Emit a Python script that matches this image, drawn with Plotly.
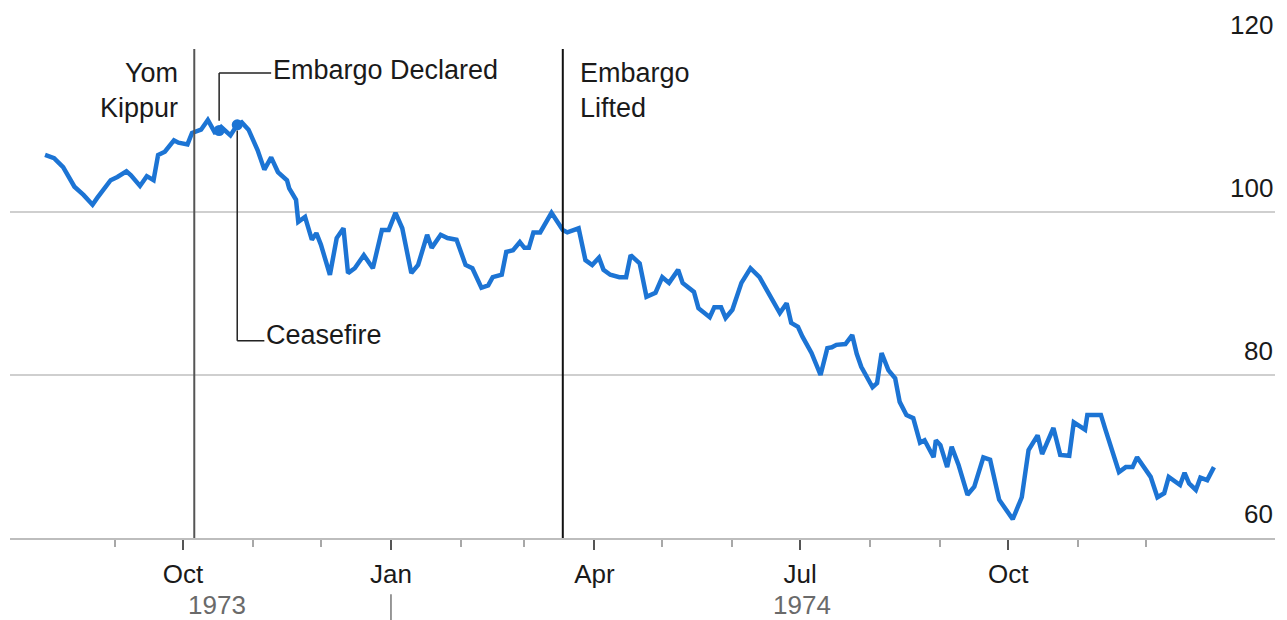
import plotly.graph_objects as go

# ---- data ----
dates = [
    "1973-08-01", "1973-08-05", "1973-08-09", "1973-08-14", "1973-08-18", "1973-08-22",
    "1973-08-24", "1973-08-30", "1973-09-02", "1973-09-06", "1973-09-08", "1973-09-12",
    "1973-09-15", "1973-09-18", "1973-09-20", "1973-09-23", "1973-09-27", "1973-09-29",
    "1973-10-03", "1973-10-05", "1973-10-09", "1973-10-12", "1973-10-15", "1973-10-17",
    "1973-10-18", "1973-10-22", "1973-10-25", "1973-10-27", "1973-10-30", "1973-11-03",
    "1973-11-06", "1973-11-09", "1973-11-12", "1973-11-16", "1973-11-17", "1973-11-20",
    "1973-11-21", "1973-11-24", "1973-11-27", "1973-11-29", "1973-12-01", "1973-12-05",
    "1973-12-08", "1973-12-11", "1973-12-13", "1973-12-16", "1973-12-20", "1973-12-24",
    "1973-12-28", "1973-12-31", "1974-01-03", "1974-01-06", "1974-01-10", "1974-01-13",
    "1974-01-17", "1974-01-19", "1974-01-23", "1974-01-26", "1974-01-30", "1974-02-03",
    "1974-02-06", "1974-02-10", "1974-02-13", "1974-02-15", "1974-02-19", "1974-02-21",
    "1974-02-24", "1974-02-27", "1974-03-01", "1974-03-03", "1974-03-05", "1974-03-08",
    "1974-03-13", "1974-03-18", "1974-03-20", "1974-03-25", "1974-03-28", "1974-03-31",
    "1974-04-03", "1974-04-05", "1974-04-08", "1974-04-12", "1974-04-15", "1974-04-17",
    "1974-04-21", "1974-04-24", "1974-04-28", "1974-05-01", "1974-05-04", "1974-05-08",
    "1974-05-10", "1974-05-13", "1974-05-15", "1974-05-17", "1974-05-22", "1974-05-24",
    "1974-05-27", "1974-05-29", "1974-06-01", "1974-06-05", "1974-06-09", "1974-06-13",
    "1974-06-17", "1974-06-22", "1974-06-25", "1974-06-27", "1974-06-30", "1974-07-02",
    "1974-07-06", "1974-07-10", "1974-07-13", "1974-07-15", "1974-07-17", "1974-07-21",
    "1974-07-24", "1974-07-26", "1974-07-28", "1974-08-02", "1974-08-04", "1974-08-06",
    "1974-08-09", "1974-08-12", "1974-08-14", "1974-08-17", "1974-08-20", "1974-08-23",
    "1974-08-25", "1974-08-29", "1974-08-30", "1974-09-01", "1974-09-04", "1974-09-06",
    "1974-09-09", "1974-09-13", "1974-09-16", "1974-09-20", "1974-09-23", "1974-09-27",
    "1974-10-03", "1974-10-07", "1974-10-10", "1974-10-14", "1974-10-16", "1974-10-21",
    "1974-10-24", "1974-10-28", "1974-10-30", "1974-11-04", "1974-11-05", "1974-11-11",
    "1974-11-13", "1974-11-19", "1974-11-22", "1974-11-25", "1974-11-27", "1974-12-03",
    "1974-12-06", "1974-12-09", "1974-12-11", "1974-12-16", "1974-12-18", "1974-12-20",
    "1974-12-23", "1974-12-25", "1974-12-28", "1974-12-31",
]
values = [
    107.0, 106.6, 105.5, 103.1, 102.1, 100.9,
    101.7, 103.9, 104.3, 105.0, 104.5, 103.2,
    104.4, 103.9, 107.0, 107.4, 108.8, 108.5,
    108.3, 109.7, 110.1, 111.3, 109.8, 110.0,
    110.4, 109.4, 110.7, 111.0, 110.1, 107.6,
    105.2, 106.7, 104.9, 103.9, 102.9, 101.5,
    98.8, 99.4, 96.6, 97.4, 96.0, 92.3,
    96.8, 98.0, 92.5, 93.1, 94.7, 93.1,
    97.8, 97.8, 99.9, 98.0, 92.5, 93.5,
    97.2, 95.6, 97.2, 96.8, 96.6, 93.5,
    93.1, 90.7, 91.0, 92.0, 92.3, 95.1,
    95.3, 96.3, 95.6, 95.6, 97.5, 97.5,
    99.9, 97.8, 97.5, 98.0, 94.1, 93.5,
    94.4, 92.9, 92.3, 92.0, 92.0, 94.7,
    93.7, 89.6, 90.1, 92.0, 91.3, 92.9,
    91.3, 90.7, 90.2, 88.2, 87.1, 88.3,
    88.3, 87.0, 88.0, 91.3, 93.1, 92.0,
    90.1, 87.6, 88.8, 86.4, 85.9, 84.7,
    82.7, 80.0, 83.3, 83.4, 83.7, 83.8,
    84.9, 82.6, 81.0, 78.5, 79.0, 82.7,
    80.6, 79.6, 76.7, 75.1, 74.7, 71.7,
    72.0, 69.9, 72.0, 71.4, 68.7, 71.2,
    69.0, 65.3, 66.3, 69.9, 69.6, 64.7,
    62.3, 65.0, 70.8, 72.6, 70.3, 73.5,
    70.2, 70.1, 74.2, 73.3, 75.1, 75.1,
    73.3, 68.1, 68.7, 68.7, 69.9, 67.5,
    65.0, 65.5, 67.5, 66.5, 68.0, 66.7,
    65.9, 67.4, 67.1, 68.7,
]

event_names = ["Yom Kippur", "Embargo Declared", "Ceasefire", "Embargo Lifted"]
event_dates = ["1973-10-06", "1973-10-17", "1973-10-25", "1974-03-18"]

x_tick_vals = ["1973-10-01", "1974-01-01", "1974-04-01", "1974-07-01", "1974-10-01"]
x_tick_text = ["Oct", "Jan", "Apr", "Jul", "Oct"]
x_minor_vals = ["1973-09-01", "1973-11-01", "1973-12-01", "1974-02-01", "1974-03-01",
                "1974-05-01", "1974-06-01", "1974-08-01", "1974-09-01", "1974-11-01",
                "1974-12-01"]
y_tick_vals = [60, 80, 100, 120]
year_labels = ["1973", "1974"]
year_label_dates = ["1973-10-16", "1974-07-02"]
year_break = "1974-01-01"

# ---- styles ----
FONT = "Liberation Sans, Arial, Helvetica, sans-serif"
BLUE = "#1c74d4"
GRID = "#cfcfcf"
TXT = "#1a1a1a"
FS = 26
FS_LBL = 27

fig = go.Figure()
fig.add_trace(go.Scatter(x=dates, y=values, mode="lines",
                         line=dict(color=BLUE, width=4.5), hoverinfo="skip",
                         showlegend=False))

# highlight points for Embargo Declared and Ceasefire
mk_x = [event_dates[1], event_dates[2]]
mk_y = [values[dates.index(d)] for d in mk_x]
fig.add_trace(go.Scatter(x=mk_x, y=mk_y, mode="markers",
                         marker=dict(color=BLUE, size=11), hoverinfo="skip",
                         showlegend=False))

shapes = []
annotations = []

# full-height event lines
shapes.append(dict(type="line", xref="x", yref="y", x0=event_dates[0], x1=event_dates[0],
                   y0=60, y1=120, line=dict(color="#555555", width=2)))
shapes.append(dict(type="line", xref="x", yref="y", x0=event_dates[3], x1=event_dates[3],
                   y0=60, y1=120, line=dict(color="#111111", width=2)))

# Embargo Declared leader
ed_top = 117.05
ed_end = "1973-11-09"
shapes.append(dict(type="line", xref="x", yref="y", x0=event_dates[1], x1=event_dates[1],
                   y0=111.2, y1=ed_top, line=dict(color="#222222", width=1.5)))
shapes.append(dict(type="line", xref="x", yref="y", x0=event_dates[1], x1=ed_end,
                   y0=ed_top, y1=ed_top, line=dict(color="#222222", width=1.5)))
annotations.append(dict(x=ed_end, y=ed_top + 0.35, xref="x", yref="y", text=event_names[1],
                        showarrow=False, xanchor="left", yanchor="middle",
                        font=dict(family=FONT, size=FS_LBL, color=TXT)))

# Ceasefire leader
cf_bot = 84.2
cf_end = "1973-11-06"
shapes.append(dict(type="line", xref="x", yref="y", x0=event_dates[2], x1=event_dates[2],
                   y0=110.0, y1=cf_bot, line=dict(color="#222222", width=1.5)))
shapes.append(dict(type="line", xref="x", yref="y", x0=event_dates[2], x1=cf_end,
                   y0=cf_bot, y1=cf_bot, line=dict(color="#222222", width=1.5)))
annotations.append(dict(x=cf_end, y=cf_bot + 0.7, xref="x", yref="y", text=event_names[2],
                        showarrow=False, xanchor="left", yanchor="middle",
                        font=dict(family=FONT, size=FS_LBL, color=TXT)))

# Yom Kippur / Embargo Lifted labels
annotations.append(dict(x=event_dates[0], y=114.9, xref="x", yref="y",
                        text="Yom<br>Kippur", showarrow=False, xanchor="right",
                        yanchor="middle", align="right", xshift=-14,
                        font=dict(family=FONT, size=FS_LBL, color=TXT)))
annotations.append(dict(x=event_dates[3], y=114.9, xref="x", yref="y",
                        text="Embargo<br>Lifted", showarrow=False, xanchor="left",
                        yanchor="middle", align="left", xshift=15,
                        font=dict(family=FONT, size=FS_LBL, color=TXT)))

# y tick labels (above gridlines, right side)
for v in y_tick_vals:
    annotations.append(dict(x=1, y=v, xref="paper", yref="y", text=str(v),
                            showarrow=False, xanchor="right", yanchor="middle",
                            yshift=24, xshift=0,
                            font=dict(family=FONT, size=FS, color=TXT)))

# year labels
for t, d in zip(year_labels, year_label_dates):
    annotations.append(dict(x=d, y=-0.137, xref="x", yref="paper", text=t,
                            showarrow=False, xanchor="center", yanchor="middle",
                            font=dict(family=FONT, size=FS, color="#6a6a6a")))
shapes.append(dict(type="line", xref="x", yref="paper", x0=year_break, x1=year_break,
                   y0=-0.115, y1=-0.18, line=dict(color="#777777", width=1.5)))

fig.update_layout(
    width=1287, height=620,
    margin=dict(l=10, r=12, t=49, b=82),
    paper_bgcolor="white", plot_bgcolor="white",
    shapes=shapes, annotations=annotations,
    xaxis=dict(
        type="date",
        range=["1973-07-16 12:00", "1975-01-27"],
        tickvals=x_tick_vals, ticktext=x_tick_text,
        ticks="outside", ticklen=10, tickwidth=2, tickcolor="#555555",
        ticklabelstandoff=2,
        tickfont=dict(family=FONT, size=FS, color=TXT),
        showgrid=False, zeroline=False,
        showline=True, linecolor="#bdbdbd", linewidth=2,
        minor=dict(tickvals=x_minor_vals, ticks="outside", ticklen=7,
                   tickwidth=1.5, tickcolor="#a8a8a8", showgrid=False),
    ),
    yaxis=dict(
        range=[60, 120], tickvals=y_tick_vals, showticklabels=False,
        showgrid=True, gridcolor=GRID, gridwidth=2, zeroline=False,
        ticks="",
    ),
)

fig.write_html("out.html")
